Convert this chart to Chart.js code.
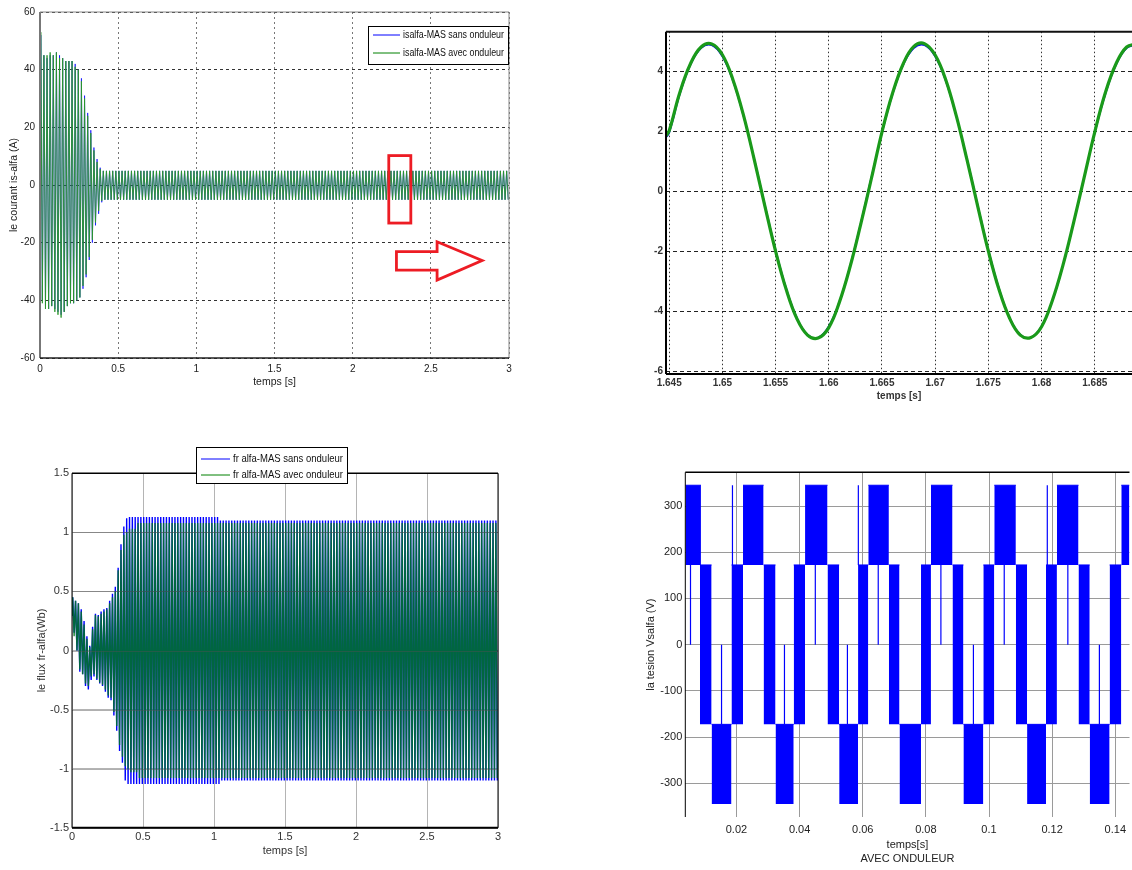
<!DOCTYPE html>
<html lang="fr">
<head>
<meta charset="UTF-8">
<title>MAS - courant, flux et tension alpha</title>
<script src="https://cdn.jsdelivr.net/npm/chart.js"></script>
<style>
  html, body { margin: 0; padding: 0; background: #fff; }
  #page { position: relative; width: 1132px; height: 870px; overflow: hidden; background: #fff; }
  canvas { position: absolute; }
  #cTL { left: 0; top: 0; }
  #cTR { left: 600px; top: 0; filter: blur(0.35px); }
  #cBL { left: 0; top: 440px; }
  #cBR { left: 620px; top: 440px; }
</style>
</head>
<body>
<div id="page">
  <canvas id="cTL" width="520" height="395"></canvas>
  <canvas id="cTR" width="532" height="410"></canvas>
  <canvas id="cBL" width="520" height="430"></canvas>
  <canvas id="cBR" width="512" height="430"></canvas>
</div>
<script>
// ---- courant statorique is-alfa (A), 0..3 s ----
// crêtes relevées pendant le démarrage, une par période de 50 Hz
const periode = 0.02;
const isHautSans = [52, 45, 44, 45, 45, 46, 45, 44, 43, 43, 43, 42, 40, 37, 31, 25, 19, 13, 9, 6];
const isBasSans  = [-40, -42, -43, -42, -43, -44, -45, -44, -42, -41, -41, -40, -39, -36, -32, -26, -20, -14, -10, -6];
const isHautAvec = [53, 45, 45, 46, 45, 46, 44, 44, 43, 43, 43, 41, 40, 36, 30, 24, 18, 12, 8, 5.5];
const isBasAvec  = [-41, -43, -43, -42, -44, -45, -46, -44, -42, -41, -41, -40, -39, -35, -31, -25, -19, -13, -9, -5.5];
// régime permanent : bornes de temps et amplitudes
const isBornes = [0.4, 3];
const isPalierHautSans = [4.9], isPalierBasSans = [-5.1];
const isPalierHautAvec = [4.9], isPalierBasAvec = [-5.1];
const ticksTLx = [0, 0.5, 1, 1.5, 2, 2.5, 3];
const ticksTLy = [-60, -40, -20, 0, 20, 40, 60];

// ---- zoom sur is-alfa autour de 1.665 s ----
const tZoom = [1.6447, 1.645, 1.646, 1.647, 1.648, 1.649, 1.650, 1.651, 1.652, 1.653, 1.654,
  1.655, 1.656, 1.657, 1.658, 1.659, 1.660, 1.661, 1.662, 1.663, 1.664,
  1.665, 1.666, 1.667, 1.668, 1.669, 1.670, 1.671, 1.672, 1.673, 1.674,
  1.675, 1.676, 1.677, 1.678, 1.679, 1.680, 1.681, 1.682, 1.683, 1.684,
  1.685, 1.686, 1.687, 1.688, 1.689];
const isZoomSans = [1.80, 1.95, 3.24, 4.22, 4.78, 4.88, 4.50, 3.68, 2.49, 1.07, -0.46,
  -1.95, -3.24, -4.22, -4.78, -4.88, -4.50, -3.68, -2.49, -1.07, 0.46,
  1.95, 3.24, 4.22, 4.78, 4.88, 4.50, 3.68, 2.49, 1.07, -0.46,
  -1.95, -3.24, -4.22, -4.78, -4.88, -4.50, -3.68, -2.49, -1.07, 0.46,
  1.95, 3.24, 4.22, 4.78, 4.88];
const isZoomAvec = [1.85, 2.02, 3.30, 4.26, 4.82, 4.92, 4.56, 3.72, 2.52, 1.05, -0.50,
  -2.00, -3.28, -4.25, -4.80, -4.90, -4.55, -3.70, -2.52, -1.10, 0.42,
  1.98, 3.28, 4.26, 4.84, 4.93, 4.55, 3.72, 2.50, 1.04, -0.50,
  -2.00, -3.28, -4.24, -4.80, -4.88, -4.52, -3.66, -2.48, -1.06, 0.46,
  1.98, 3.30, 4.26, 4.82, 4.92];
const ticksTRx = [1.645, 1.65, 1.655, 1.66, 1.665, 1.67, 1.675, 1.68, 1.685];
const ticksTRy = [-6, -4, -2, 0, 2, 4];

// ---- flux rotorique fr-alfa (Wb), 0..3 s ----
const frHautSans = [0.45, 0.42, 0.40, 0.35, 0.25, 0.12, 0.04, 0.20, 0.31, 0.30, 0.33, 0.35, 0.36, 0.42, 0.48, 0.54, 0.70, 0.90, 1.05, 1.12];
const frBasSans  = [0.15, 0.00, -0.18, -0.20, -0.30, -0.33, -0.25, -0.22, -0.25, -0.28, -0.30, -0.35, -0.40, -0.42, -0.55, -0.68, -0.85, -0.95, -1.10, -1.13];
const frHautAvec = [0.45, 0.42, 0.40, 0.33, 0.22, 0.10, 0.03, 0.18, 0.30, 0.29, 0.31, 0.33, 0.35, 0.40, 0.45, 0.50, 0.68, 0.85, 0.98, 1.00];
const frBasAvec  = [0.12, 0.00, -0.16, -0.20, -0.28, -0.30, -0.22, -0.20, -0.24, -0.27, -0.29, -0.33, -0.38, -0.40, -0.52, -0.64, -0.80, -0.90, -0.98, -1.00];
const frBornesSans = [0.4, 1.04, 3];
const frPalierHautSans = [1.13, 1.10], frPalierBasSans = [-1.13, -1.10];
const frBornesAvec = [0.4, 0.46, 3];
const frPalierHautAvec = [1.03, 1.08], frPalierBasAvec = [-1.03, -1.08];
const ticksBLx = [0, 0.5, 1, 1.5, 2, 2.5, 3];
const ticksBLy = [-1.5, -1, -0.5, 0, 0.5, 1, 1.5];

// ---- tension Vsalfa (V) avec onduleur ----
const vHaut = 345, vMilieu = 172.5;
const blocsHautDebut = [0.0038, 0.02208, 0.04173, 0.06176, 0.08161, 0.10167, 0.12151, 0.1419];
const blocsHautFin   = [0.00876, 0.0286, 0.04885, 0.06828, 0.08844, 0.1085, 0.12835, 0.1445];
const blocsMilieuDebut = [0.00844, 0.01843, 0.0286, 0.03814, 0.04885, 0.05852, 0.06828, 0.07846, 0.08844, 0.0982, 0.1085, 0.11805, 0.12835, 0.1382];
const blocsMilieuFin   = [0.01213, 0.02208, 0.03238, 0.04173, 0.05254, 0.06176, 0.07165, 0.08161, 0.0919, 0.10167, 0.11206, 0.12151, 0.1319, 0.1419];
const blocsBasDebut = [0.01213, 0.03238, 0.05254, 0.07165, 0.0919, 0.11206, 0.1319];
const blocsBasFin   = [0.01843, 0.03814, 0.05852, 0.07846, 0.0982, 0.11805, 0.1382];
// commutations isolées : instant, niveau de départ, niveau atteint
const impulsT  = [0.00545, 0.04498, 0.06491, 0.08476, 0.10482, 0.12497, 0.01528, 0.03521, 0.05515, 0.09506, 0.13496, 0.01874, 0.05861, 0.11846];
const impulsDe = [172.5, 172.5, 172.5, 172.5, 172.5, 172.5, -172.5, -172.5, -172.5, -172.5, -172.5, 172.5, 172.5, 172.5];
const impulsA  = [0, 0, 0, 0, 0, 0, 0, 0, 0, 0, 0, 345, 345, 345];
const ticksBRx = [0.02, 0.04, 0.06, 0.08, 0.1, 0.12, 0.14];
const ticksBRy = [-300, -200, -100, 0, 100, 200, 300];

const bleu = '#0000ff';
const vert = '#008000';
const policeEtroite = "'Liberation Sans Narrow', 'Arial Narrow', 'Liberation Sans', Arial, sans-serif";
const policeArial = "'Liberation Sans', Arial, sans-serif";

function palier(t, bornes, valeurs) {
  for (let i = 0; i < valeurs.length; i++) {
    if (t <= bornes[i + 1]) return valeurs[i];
  }
  return valeurs[valeurs.length - 1];
}

// signal à 50 Hz décrit par ses crêtes successives
function onde(v0, hauts, bas, bornes, palierHaut, palierBas, tFin) {
  const pts = [{x: 0, y: v0}];
  for (let k = 0; ; k++) {
    const tH = k * periode + periode / 4;
    const tB = k * periode + 3 * periode / 4;
    if (tH > tFin) break;
    pts.push({x: tH, y: k < hauts.length ? hauts[k] : palier(tH, bornes, palierHaut)});
    if (tB > tFin) break;
    pts.push({x: tB, y: k < bas.length ? bas[k] : palier(tB, bornes, palierBas)});
  }
  return pts;
}

function axe(o) {
  return {
    type: 'linear', min: o.min, max: o.max,
    afterBuildTicks: s => { s.ticks = o.ticks.map(v => ({value: v})); },
    afterFit: s => {
      if (o.largeur !== undefined) s.width = o.largeur;
      if (o.hauteur !== undefined) s.height = o.hauteur;
    },
    grid: {color: o.grille, lineWidth: 1, drawTicks: false},
    border: {display: false, dash: o.tirets || []},
    ticks: {
      font: o.police, color: o.couleur || '#222', padding: o.pad,
      autoSkip: false, maxRotation: 0,
      callback: v => String(+v.toFixed(4))
    },
    title: o.titre
      ? {display: true, text: o.titre, font: o.policeTitre, color: o.couleur || '#222', padding: o.padTitre}
      : {display: false}
  };
}

// cadre des axes, dessiné par-dessus les courbes
const cadre = {
  id: 'cadre',
  afterDatasetsDraw(chart, args, opts) {
    const {ctx, chartArea: a} = chart;
    ctx.save();
    if (opts.grilleDessus) {
      // lignes horizontales de la grille qui restent visibles à travers les courbes
      const y = chart.scales.y;
      ctx.strokeStyle = opts.grilleDessus;
      ctx.lineWidth = 1;
      y.ticks.forEach(t => {
        const py = Math.round(y.getPixelForValue(t.value)) + 0.5;
        ctx.beginPath();
        ctx.moveTo(a.left, py);
        ctx.lineTo(a.right, py);
        ctx.stroke();
      });
    }
    const cote = (c, x0, y0, x1, y1) => {
      if (!c) return;
      ctx.strokeStyle = c[1];
      ctx.lineWidth = c[0];
      ctx.beginPath();
      ctx.moveTo(x0, y0);
      ctx.lineTo(x1, y1);
      ctx.stroke();
    };
    cote(opts.gauche, a.left, a.top, a.left, a.bottom);
    cote(opts.haut, a.left, a.top, a.right, a.top);
    cote(opts.droite, a.right, a.top, a.right, a.bottom);
    cote(opts.bas, a.left, a.bottom, a.right, a.bottom);
    ctx.restore();
  }
};

// légende encadrée façon MATLAB
const legendeMatlab = {
  id: 'legendeMatlab',
  afterDraw(chart, args, opts) {
    if (!opts.boite) return;
    const {ctx} = chart;
    const b = opts.boite;
    ctx.save();
    ctx.fillStyle = '#fff';
    ctx.fillRect(b.x, b.y, b.w, b.h);
    ctx.strokeStyle = '#000';
    ctx.lineWidth = 1;
    ctx.strokeRect(b.x + 0.5, b.y + 0.5, b.w, b.h);
    ctx.font = opts.police;
    ctx.textBaseline = 'middle';
    chart.data.datasets.forEach((d, i) => {
      const y = b.y + opts.y0 + i * opts.pas;
      ctx.strokeStyle = d.legendeCouleur || d.borderColor;
      ctx.lineWidth = 1;
      ctx.beginPath();
      ctx.moveTo(b.x + opts.trait[0], y);
      ctx.lineTo(b.x + opts.trait[1], y);
      ctx.stroke();
      const l = ctx.measureText(d.label).width;
      const sx = Math.min(1, opts.largeurTexte / l);
      ctx.save();
      ctx.translate(b.x + opts.xTexte, y);
      ctx.scale(sx, 1);
      ctx.fillStyle = '#111';
      ctx.fillText(d.label, 0, 0);
      ctx.restore();
    });
    ctx.restore();
  }
};

// cadre rouge et flèche qui renvoient vers le zoom
const annotRouge = {
  id: 'annotRouge',
  afterDatasetsDraw(chart, args, opts) {
    if (!opts.rect) return;
    const {ctx, scales: {x, y}} = chart;
    ctx.save();
    ctx.strokeStyle = opts.couleur;
    ctx.lineWidth = opts.epaisseur;
    ctx.lineJoin = 'miter';
    const r = opts.rect;
    const x0 = x.getPixelForValue(r[0]), x1 = x.getPixelForValue(r[1]);
    const y0 = y.getPixelForValue(r[3]), y1 = y.getPixelForValue(r[2]);
    ctx.strokeRect(x0, y0, x1 - x0, y1 - y0);
    ctx.beginPath();
    opts.fleche.forEach((p, i) => {
      const px = x.getPixelForValue(p[0]), py = y.getPixelForValue(p[1]);
      if (i === 0) ctx.moveTo(px, py); else ctx.lineTo(px, py);
    });
    ctx.closePath();
    ctx.stroke();
    ctx.restore();
  }
};

const base = {
  responsive: false, animation: false, events: [], devicePixelRatio: 1,
  elements: {line: {tension: 0}, point: {radius: 0}}
};

// ---- is-alfa ----
new Chart(document.getElementById('cTL'), {
  type: 'line',
  data: {datasets: [
    {label: 'isalfa-MAS sans onduleur', data: onde(0, isHautSans, isBasSans, isBornes, isPalierHautSans, isPalierBasSans, 3),
     borderColor: bleu, borderWidth: 0.7, order: 1},
    {label: 'isalfa-MAS avec onduleur', data: onde(0, isHautAvec, isBasAvec, isBornes, isPalierHautAvec, isPalierBasAvec, 3),
     borderColor: '#2a962a', legendeCouleur: vert, borderWidth: 0.9, order: 0}
  ]},
  options: Object.assign({}, base, {
    layout: {padding: {top: 12, right: 11, left: 0, bottom: 0}},
    plugins: {
      legend: {display: false}, tooltip: {enabled: false},
      cadre: {gauche: [2, '#777'], haut: [1, '#888'], droite: [1, '#888'], bas: [1.5, '#222']},
      legendeMatlab: {boite: {x: 368, y: 26, w: 140, h: 38}, y0: 9, pas: 18, trait: [5, 32], xTexte: 35, largeurTexte: 101,
                      police: '10px ' + policeEtroite},
      annotRouge: {couleur: '#ed1c24', epaisseur: 2.8, rect: [2.231, 2.372, -13.2, 10.2],
                   fleche: [[2.28, -23.1], [2.54, -23.1], [2.54, -19.7], [2.828, -26.2], [2.54, -33], [2.54, -29.5], [2.28, -29.5]]}
    },
    scales: {
      x: axe({min: 0, max: 3, ticks: ticksTLx, hauteur: 37, grille: '#777', tirets: [2, 3],
              police: {family: policeEtroite, size: 10}, pad: 5,
              titre: 'temps [s]', policeTitre: {family: policeEtroite, size: 10.5}, padTitre: {bottom: 7}}),
      y: axe({min: -60, max: 60, ticks: ticksTLy, largeur: 40, grille: '#333', tirets: [3, 3],
              police: {family: policeEtroite, size: 10}, pad: 5,
              titre: 'le courant is-alfa (A)', policeTitre: {family: policeEtroite, size: 10.5}, padTitre: {top: 8}})
    }
  }),
  plugins: [cadre, legendeMatlab, annotRouge]
});

// ---- zoom is-alfa ----
new Chart(document.getElementById('cTR'), {
  type: 'line',
  data: {datasets: [
    {label: 'sans onduleur', data: tZoom.map((t, i) => ({x: t, y: isZoomSans[i]})), borderColor: bleu, borderWidth: 1.6, tension: 0.4, order: 1},
    {label: 'avec onduleur', data: tZoom.map((t, i) => ({x: t, y: isZoomAvec[i]})), borderColor: '#1a9a1a', borderWidth: 3.2, tension: 0.4, order: 0}
  ]},
  options: Object.assign({}, base, {
    layout: {padding: {top: 31.7, right: 0, left: 0, bottom: 0}},
    plugins: {
      legend: {display: false}, tooltip: {enabled: false},
      cadre: {gauche: [2, '#000'], haut: [2, '#111'], bas: [2, '#000']}
    },
    scales: {
      x: axe({min: 1.6447, max: 1.6885, ticks: ticksTRx, hauteur: 36, grille: '#333', tirets: [1.5, 2.5],
              police: {family: policeArial, size: 10, weight: 'bold'}, pad: 3, couleur: '#333',
              titre: 'temps [s]', policeTitre: {family: policeArial, size: 10, weight: 'bold'}, padTitre: {bottom: 8}}),
      y: axe({min: -6.1, max: 5.33, ticks: ticksTRy, largeur: 66, grille: '#222', tirets: [4, 3],
              police: {family: policeArial, size: 10, weight: 'bold'}, pad: 3, couleur: '#333'})
    }
  }),
  plugins: [cadre]
});

// ---- fr-alfa ----
new Chart(document.getElementById('cBL'), {
  type: 'line',
  data: {datasets: [
    {label: 'fr alfa-MAS sans onduleur', data: onde(0.3, frHautSans, frBasSans, frBornesSans, frPalierHautSans, frPalierBasSans, 3),
     borderColor: bleu, borderWidth: 1.4, order: 1},
    {label: 'fr alfa-MAS avec onduleur', data: onde(0.3, frHautAvec, frBasAvec, frBornesAvec, frPalierHautAvec, frPalierBasAvec, 3),
     borderColor: 'rgba(0,120,30,0.85)', legendeCouleur: vert, borderWidth: 1.4, order: 0}
  ]},
  options: Object.assign({}, base, {
    layout: {padding: {top: 33.3, right: 22, left: 0, bottom: 0}},
    plugins: {
      legend: {display: false}, tooltip: {enabled: false},
      cadre: {grilleDessus: 'rgba(80,80,80,0.45)', gauche: [1, '#000'], haut: [1.5, '#000'], droite: [1, '#000'], bas: [2, '#000']},
      legendeMatlab: {boite: {x: 196, y: 7, w: 151, h: 36}, y0: 12, pas: 16, trait: [5, 34], xTexte: 37, largeurTexte: 110,
                      police: '11px ' + policeArial}
    },
    scales: {
      x: axe({min: 0, max: 3, ticks: ticksBLx, hauteur: 42.3, grille: '#b4b4b4',
              police: {family: policeArial, size: 11}, pad: 3, couleur: '#333',
              titre: 'temps [s]', policeTitre: {family: policeArial, size: 11}, padTitre: {bottom: 12.7}}),
      y: axe({min: -1.5, max: 1.5, ticks: ticksBLy, largeur: 72, grille: '#b4b4b4',
              police: {family: policeArial, size: 11}, pad: 3, couleur: '#333',
              titre: 'le flux fr-alfa(Wb)', policeTitre: {family: policeArial, size: 11}, padTitre: {top: 35}})
    }
  }),
  plugins: [cadre, legendeMatlab]
});

// ---- Vsalfa : zones de commutation remplies entre deux niveaux ----
function bloc(t0, t1, bas, haut) {
  return {data: [{x: t0, y: haut}, {x: t1, y: haut}], fill: {value: bas},
          backgroundColor: bleu, borderColor: bleu, borderWidth: 1};
}
const jeuxBR = [];
blocsHautDebut.forEach((t, i) => jeuxBR.push(bloc(t, blocsHautFin[i], vMilieu, vHaut)));
blocsMilieuDebut.forEach((t, i) => jeuxBR.push(bloc(t, blocsMilieuFin[i], -vMilieu, vMilieu)));
blocsBasDebut.forEach((t, i) => jeuxBR.push(bloc(t, blocsBasFin[i], -vHaut, -vMilieu)));
const traitsImpuls = [];
impulsT.forEach((t, i) => traitsImpuls.push({x: t, y: impulsDe[i]}, {x: t, y: impulsA[i]}, {x: t, y: null}));
jeuxBR.push({data: traitsImpuls, borderColor: bleu, borderWidth: 1.2, fill: false});

new Chart(document.getElementById('cBR'), {
  type: 'line',
  data: {datasets: jeuxBR},
  options: Object.assign({}, base, {
    layout: {padding: {top: 32.3, right: 0, left: 0, bottom: 0}},
    plugins: {
      legend: {display: false}, tooltip: {enabled: false},
      cadre: {gauche: [1, '#000'], haut: [1.5, '#000']}
    },
    scales: {
      x: axe({min: 0.0038, max: 0.1445, ticks: ticksBRx, hauteur: 53, grille: '#9a9a9a',
              police: {family: policeArial, size: 11}, pad: 6, couleur: '#222',
              titre: ['temps[s]', 'AVEC ONDULEUR'], policeTitre: {family: policeArial, size: 11, lineHeight: 1.3}, padTitre: {bottom: 3.5}}),
      y: axe({min: -373, max: 373, ticks: ticksBRy, largeur: 65.3, grille: '#9a9a9a',
              police: {family: policeArial, size: 11}, pad: 3, couleur: '#222',
              titre: 'la tesion Vsalfa (V)', policeTitre: {family: policeArial, size: 11}, padTitre: {top: 24.4}})
    }
  }),
  plugins: [cadre]
});
</script>
</body>
</html>
